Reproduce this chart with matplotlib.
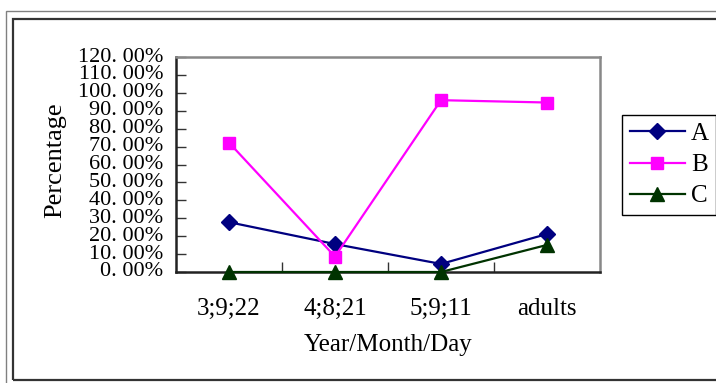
import matplotlib
matplotlib.use("Agg")
import matplotlib.pyplot as plt
from matplotlib.patches import Rectangle

plt.rcParams['font.family'] = ['Liberation Serif', 'DejaVu Serif']

categories = ["3;9;22", "4;8;21", "5;9;11", "adults"]
series_a = [27.8, 15.6, 4.5, 21.2]
series_b = [72.2, 8.6, 95.9, 94.6]
series_c = [0.0, 0.0, 0.0, 15.1]
y_ticks = [0, 10, 20, 30, 40, 50, 60, 70, 80, 90, 100, 110, 120]
y_tick_labels = ["0. 00%", "10. 00%", "20. 00%", "30. 00%", "40. 00%", "50. 00%",
                 "60. 00%", "70. 00%", "80. 00%", "90. 00%", "100. 00%", "110. 00%",
                 "120. 00%"]

W, H = 716, 383
fig = plt.figure(figsize=(W / 100, H / 100), dpi=100)

# outer chart-area frames (gray outline and dark inner border)
fig.patches.append(Rectangle((6 / W, -0.1), 1.2, (H - 11) / H + 0.1, transform=fig.transFigure,
                             fill=False, edgecolor="#808080", linewidth=1.0))
fig.patches.append(Rectangle((13 / W, 1 - 380 / H), 1.2, (380 - 19) / H, transform=fig.transFigure,
                             fill=False, edgecolor="#333333", linewidth=1.6))

ax = fig.add_axes([176 / W, (H - 272) / H, 424 / W, 215 / H])
x = list(range(len(categories)))

ax.plot(x, series_a, color="#000080", lw=1.6, marker="D", ms=7.8, label="A", zorder=3)
ax.plot(x, series_b, color="#FF00FF", lw=1.6, marker="s", ms=8.4, label="B", zorder=3)
ax.plot(x, series_c, color="#003300", lw=1.6, marker="^", ms=10, label="C", zorder=4, clip_on=False)

ax.set_xlim(-0.5, len(categories) - 0.5)
ax.set_ylim(0, 120)
ax.set_yticks(y_ticks)
ax.set_yticklabels(y_tick_labels, fontsize=16)
ax.set_xticks(x)
ax.set_xticklabels(categories, fontsize=18)
ax.set_xticks([i + 0.5 for i in x[:-1]], minor=True)
ax.tick_params(axis="x", which="major", length=0, pad=19)
ax.tick_params(axis="x", which="minor", length=7, direction="in", width=1, color="#333333")
ax.tick_params(axis="y", length=7, direction="in", width=1, color="#333333", pad=9)
for lab in ax.get_yticklabels():
    lab.set_verticalalignment("center")

for side in ("left", "bottom"):
    ax.spines[side].set_color("#222222")
    ax.spines[side].set_linewidth(1.8)
for side in ("top", "right"):
    ax.spines[side].set_color("#888888")
    ax.spines[side].set_linewidth(1.8)

ax.set_xlabel("Year/Month/Day", fontsize=18, labelpad=10)
ax.set_ylabel("Percentage", fontsize=19)
ax.yaxis.set_label_coords(-0.26, 0.52)

leg = fig.legend(loc="upper left", bbox_to_anchor=(622 / W, 1 - 115 / H), fontsize=18,
                 frameon=True, fancybox=False, edgecolor="#000000", framealpha=1,
                 handlelength=2.2, handletextpad=0.25, borderpad=0.3, labelspacing=0.35,
                 borderaxespad=0)
leg.get_frame().set_linewidth(1.0)

fig.savefig("out.png", dpi=100)
